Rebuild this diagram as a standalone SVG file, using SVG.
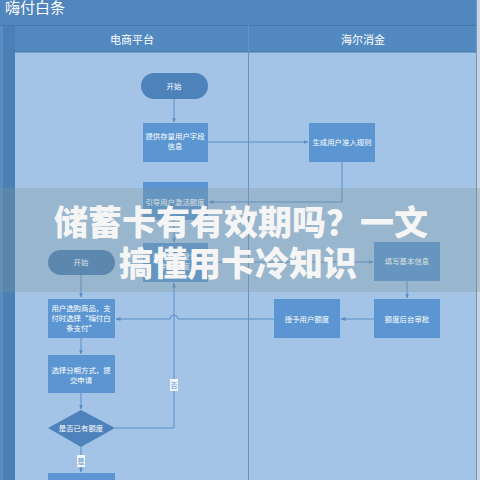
<svg xmlns="http://www.w3.org/2000/svg" width="480" height="480" viewBox="0 0 480 480">
<defs>
<style>
.t{font-family:"Noto Sans CJK SC","Liberation Sans",sans-serif;fill:#ffffff;text-anchor:middle}
.s{font-size:7.4px}
.box{fill:#5b96d2}
.pill{fill:#4d82bb}
.c{fill:none;stroke:#5a8ec6;stroke-width:1}
.lbl{fill:#f2f6fa}
.lt{font-family:"Noto Sans CJK SC","Liberation Sans",sans-serif;fill:#5a8ec6;font-size:7px;text-anchor:middle}
.ban{font-family:"Noto Sans CJK SC","Liberation Sans",sans-serif;font-weight:900;fill:#f5f5f5;font-size:34px;text-anchor:middle}
</style>
<marker id="a" viewBox="0 0 10 10" refX="9" refY="5" markerWidth="5" markerHeight="5" orient="auto"><path d="M0,1 L10,5 L0,9 Z" fill="#5a8ec6"/></marker>
</defs>
<rect x="0" y="0" width="480" height="480" fill="#a3c4e6"/>
<rect x="0" y="0" width="480" height="25" fill="#5086bd"/>
<text x="5" y="13" font-family="Noto Sans CJK SC,Liberation Sans,sans-serif" font-size="15" fill="#ffffff">嗨付白条</text>
<rect x="0" y="25" width="15" height="455" fill="#4b80b6"/>
<rect x="0" y="25" width="3" height="455" fill="#5a8dc2"/>
<rect x="15" y="25" width="461" height="27" fill="#5289c0"/>
<line x1="0" y1="25.5" x2="476" y2="25.5" stroke="#4677aa" stroke-width="1"/>
<line x1="15" y1="52" x2="476" y2="52" stroke="#4677aa" stroke-width="1"/>
<line x1="248.5" y1="25" x2="248.5" y2="480" stroke="#6d93bd" stroke-width="1"/>
<rect x="476" y="0" width="4" height="480" fill="#c7d6e6"/>
<line x1="476.5" y1="0" x2="476.5" y2="480" stroke="#7d91a8" stroke-width="1"/>
<text class="t" x="132" y="44" font-size="11">电商平台</text>
<text class="t" x="363" y="44" font-size="11">海尔消金</text>

<g id="connectors">
<path class="c" d="M174,99 V122" marker-end="url(#a)"/>
<path class="c" d="M208,142 H308" marker-end="url(#a)"/>
<path class="c" d="M342,162 V202 H209" marker-end="url(#a)"/>
<path class="c" d="M174,220 V242" marker-end="url(#a)"/>
<path class="c" d="M208,262 H373" marker-end="url(#a)"/>
<path class="c" d="M407,281 V298" marker-end="url(#a)"/>
<path class="c" d="M374,319 H341" marker-end="url(#a)"/>
<path class="c" d="M274,319 H178 A4,4 0 0 0 170,319 H116" marker-end="url(#a)"/>
<path class="c" d="M81,275 V297" marker-end="url(#a)"/>
<path class="c" d="M81,338 V354" marker-end="url(#a)"/>
<path class="c" d="M81,393 V409" marker-end="url(#a)"/>
<path class="c" d="M115,428 H174 V283" marker-end="url(#a)"/>
<path class="c" d="M81,447 V472" marker-end="url(#a)"/>
<rect class="lbl" x="170" y="379" width="8" height="12"/>
<text class="lt" x="174" y="388">否</text>
<rect class="lbl" x="77" y="455" width="8" height="12"/>
<text class="lt" x="81" y="464">是</text>
</g>

<g id="start1"><rect class="pill" x="141" y="73" width="67" height="26" rx="13"/><text class="t s" x="174" y="89">开始</text></g>
<g id="n1"><rect class="box" x="143" y="123" width="65" height="39"/><text class="t s" x="175" y="139">提供存量用户字段</text><text class="t s" x="175" y="149">信息</text></g>
<g id="n2"><rect class="box" x="309" y="123" width="66" height="39"/><text class="t s" x="342" y="145">生成用户准入规则</text></g>
<g id="n3"><rect class="box" x="143" y="182" width="65" height="38"/><text class="t s" x="175" y="205">引导用户激活额度</text></g>
<g id="n4"><rect class="box" x="143" y="243" width="65" height="39"/><text class="t s" x="175" y="259">引导用户登记</text><text class="t s" x="175" y="269">申请额度</text></g>
<g id="n5"><rect class="box" x="374" y="242" width="66" height="39"/><text class="t s" x="407" y="264">填写基本信息</text></g>
<g id="n6"><rect class="box" x="374" y="299" width="66" height="39"/><text class="t s" x="407" y="322">额度后台审批</text></g>
<g id="n7"><rect class="box" x="274" y="299" width="66" height="39"/><text class="t s" x="307" y="322">授予用户额度</text></g>
<g id="start2"><rect class="pill" x="48" y="250" width="67" height="25" rx="12.5"/><text class="t s" x="81" y="265">开始</text></g>
<g id="n8"><rect class="box" x="48" y="299" width="67" height="39"/><text class="t s" x="81" y="311">用户选购商品，支</text><text class="t s" x="81" y="321">付时选择“嗨付白</text><text class="t s" x="81" y="331">条支付”</text></g>
<g id="n9"><rect class="box" x="48" y="355" width="67" height="38"/><text class="t s" x="81" y="373">选择分期方式，提</text><text class="t s" x="81" y="383">交申请</text></g>
<g id="d1"><polygon points="81,410 115,428 81,447 48,428" fill="#4d82bb"/><text class="t s" x="81" y="431">是否已有额度</text></g>
<g id="n10"><rect class="box" x="48" y="473" width="67" height="10"/></g>

<rect x="0" y="188" width="480" height="104" fill="rgb(128,150,150)" fill-opacity="0.3"/>
<text class="ban" x="241" y="235">储蓄卡有有效期吗？一文</text>
<text class="ban" x="238" y="276">搞懂用卡冷知识</text>
</svg>
